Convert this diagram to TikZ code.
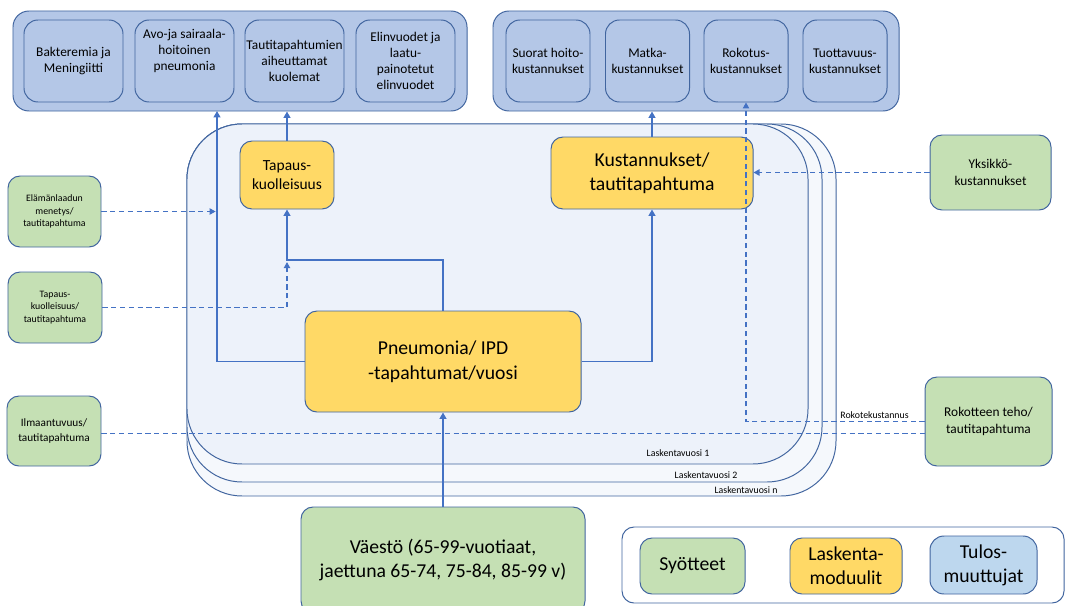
\documentclass[tikz,border=0pt]{standalone}
\usepackage{fontspec}
\setmainfont{Carlito}
\usetikzlibrary{arrows.meta,positioning,calc}
\definecolor{link}{HTML}{4472C4}
\definecolor{edge}{HTML}{41659F}
\definecolor{steel}{HTML}{B4C7E7}
\definecolor{gold}{HTML}{FFD966}
\definecolor{sage}{HTML}{C5E0B4}
\definecolor{sky}{HTML}{BDD7EE}
\definecolor{yearfill}{HTML}{EDF2FA}
\definecolor{yearback}{HTML}{F5F8FC}
\tikzset{group/.style={draw=edge,fill=steel,rounded corners=4mm,minimum height=25mm,line width=0.7pt}, outcome/.style={draw=edge,fill=steel,rounded corners=3.5mm,align=center,font=\fontsize{9.5}{11.5}\selectfont,minimum height=20.5mm,inner sep=0pt,line width=0.7pt}, module/.style={draw=edge,fill=gold,rounded corners=3mm,align=center,inner sep=0pt,line width=0.7pt}, source/.style={draw=edge,fill=sage,rounded corners=3mm,align=center,inner sep=0pt,line width=0.7pt}, flow/.style={-{Triangle[length=1.6mm,width=1.7mm]},line width=1.3pt,draw=link}, feed/.style={-{Triangle[length=1.5mm,width=1.6mm]},line width=0.75pt,draw=link,dash pattern=on 1.3mm off 0.9mm}, year/.style={draw=edge,line width=0.7pt,rounded corners=13.75mm}, yearlbl/.style={font=\fontsize{7}{8}\selectfont,inner sep=1pt}}

\begin{document}
\begin{tikzpicture}[x=0.25mm,y=-0.25mm]
\useasboundingbox (0,0) rectangle (1065,606);
% laskentavuodet
\draw[year,fill=yearback] (187,124) rectangle (836,496);
\draw[year,fill=yearback] (187,124) rectangle (822,482);
\draw[year,fill=yearfill] (187,124) rectangle (808,464);
\node[yearlbl] (v1) at (678,453) {Laskentavuosi 1};
\node[yearlbl] (v2) at (706,475) {Laskentavuosi 2};
\node[yearlbl] (vn) at (746,490) {Laskentavuosi n};
% tulosmuuttujat
\node[group,minimum width=113.5mm] (resgrp) at (240,61) {};
\node[outcome,minimum width=24.75mm] (bakt) at (73.5,61) {Bakteremia ja\\Meningiitti};
\node[outcome,minimum width=24.75mm] (avo) at (184.5,61) {Avo-ja sairaala-\\hoitoinen\\pneumonia\\[4pt]};
\node[outcome,minimum width=24.75mm] (kuol) at (294.5,61) {Tautitapahtumien\\aiheuttamat\\kuolemat};
\node[outcome,minimum width=24.75mm] (elin) at (405.5,61) {Elinvuodet ja\\laatu-\\painotetut\\elinvuodet};
\node[group,minimum width=101.5mm] (kustgrp) at (696,61) {};
\node[outcome,minimum width=21mm] (suor) at (548,61) {Suorat hoito-\\kustannukset};
\node[outcome,minimum width=21mm] (matk) at (647.5,61) {Matka-\\kustannukset};
\node[outcome,minimum width=21mm] (rok) at (746,61) {Rokotus-\\kustannukset};
\node[outcome,minimum width=21mm] (tuot) at (845,61) {Tuottavuus-\\kustannukset};
% laskentamoduulit
\node[module,minimum width=23.5mm,minimum height=17mm,font=\fontsize{11}{13.5}\selectfont] (tapaus) at (287,175) {Tapaus-\\kuolleisuus};
\node[module,minimum width=50.5mm,minimum height=18mm,font=\fontsize{14}{17}\selectfont] (kust) at (652,173) {Kustannukset/\\tautitapahtuma};
\node[module,minimum width=69mm,minimum height=25.25mm,font=\fontsize{14}{17.5}\selectfont] (pneu) at (443,361.5) {Pneumonia/ IPD\\-tapahtumat/vuosi};
% syotteet
\node[source,minimum width=23.25mm,minimum height=17.75mm,font=\fontsize{7}{9}\selectfont] (elama) at (54.5,211.5) {Elämänlaadun\\menetys/\\tautitapahtuma};
\node[source,minimum width=23.5mm,minimum height=17.75mm,font=\fontsize{7}{9}\selectfont] (tkuol) at (55,307.5) {Tapaus-\\kuolleisuus/\\tautitapahtuma};
\node[source,minimum width=23.5mm,minimum height=17.5mm,font=\fontsize{8}{11}\selectfont] (ilma) at (54,431) {Ilmaantuvuus/\\tautitapahtuma};
\node[source,minimum width=30.25mm,minimum height=18.75mm,font=\fontsize{9.5}{12}\selectfont] (yks) at (990.5,172.5) {Yksikkö-\\kustannukset};
\node[source,minimum width=31.75mm,minimum height=22.25mm,font=\fontsize{9.5}{12}\selectfont] (rokt) at (988.5,421.5) {Rokotteen teho/\\tautitapahtuma};
\node[source,minimum width=71mm,minimum height=26.5mm,font=\fontsize{14}{17.5}\selectfont] (vaesto) at (443,560) {Väestö (65-99-vuotiaat,\\jaettuna 65-74, 75-84, 85-99 v)};
% selitteet
\node[draw=edge,fill=white,rounded corners=3mm,minimum width=110.5mm,minimum height=19mm,line width=0.7pt] (legend) at (843,565) {};
\node[source,minimum width=26.25mm,minimum height=14mm,font=\fontsize{14}{17}\selectfont] (syot) at (692.5,566) {Syötteet};
\node[module,minimum width=28mm,minimum height=14mm,font=\fontsize{14}{17}\selectfont] (lask) at (846,566) {Laskenta-\\moduulit};
\node[outcome,fill=sky,minimum width=26.75mm,minimum height=14.5mm,font=\fontsize{14}{17}\selectfont] (tulos) at (983.5,565) {Tulos-\\muuttujat};
% yhteydet
\coordinate (avoin) at (217,111);
\coordinate (j1) at (443,260);
\coordinate (j2) at (287,260);
\coordinate (ilmaout) at ($(ilma.east)+(0,2.5)$);
\draw[flow] (vaesto) -- (pneu);
\draw[flow] (pneu.north) -- (j1) -| (tapaus.south);
\draw[flow] (pneu.east) -| (kust.south);
\draw[flow] (pneu.west) -| (avoin);
\draw[flow] (tapaus.north) -- (tapaus.north |- resgrp.south);
\draw[flow] (kust.north) -- (kust.north |- kustgrp.south);
\draw[feed,shorten >=1pt] (elama.east) -- (elama.east -| avoin);
\draw[feed,shorten >=1.5pt] (tkuol.east) -| (j2);
\draw[feed,-] (ilmaout) -- (ilmaout -| rokt.west);
\draw[feed] (rokt.west) -| node[yearlbl,pos=0.14,above=1pt] (rkust) {Rokotekustannus} (rok.south);
\draw[feed] (yks.west) -- (yks.west -| kust.east);
\end{tikzpicture}
\end{document}
